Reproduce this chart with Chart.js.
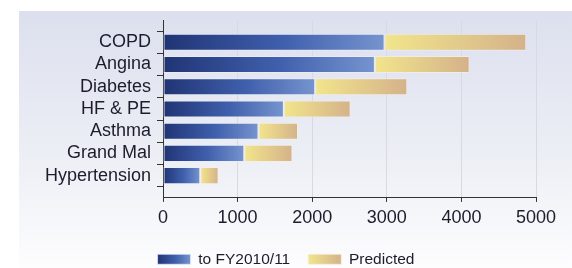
<!DOCTYPE html>
<html>
<head>
<meta charset="utf-8">
<script src="https://cdn.jsdelivr.net/npm/chart.js@4/dist/chart.umd.min.js"></script>
<style>
  html, body { margin: 0; padding: 0; background: #ffffff; }
  #wrap { width: 572px; height: 268px; position: relative; }
</style>
</head>
<body>
<div id="wrap"><canvas id="c" width="572" height="268"></canvas></div>
<script>
const categories = ['COPD', 'Angina', 'Diabetes', 'HF & PE', 'Asthma', 'Grand Mal', 'Hypertension'];
const toFY201011 = [2970, 2840, 2040, 1620, 1280, 1090, 500];
const predicted = [1900, 1270, 1235, 895, 530, 645, 245];
const seriesNames = ['to FY2010/11', 'Predicted'];
const xTicks = [0, 1000, 2000, 3000, 4000, 5000];

// blank slots at both ends so the axis extends beyond the first/last bar
const yLabels = [''].concat(categories, ['']);
const pad = arr => [null].concat(arr, [null]);

const blueStops = [[0, '#203474'], [0.55, '#4060ad'], [1, '#7694ce']];
const goldStops = [[0, '#f2e58c'], [1, '#d4b28a']];

function grad(ctx, x0, x1, stops) {
  const g = ctx.createLinearGradient(x0, 0, x1, 0);
  stops.forEach(s => g.addColorStop(s[0], s[1]));
  return g;
}

function barFill(stops, dsIndex) {
  return function (c) {
    const chart = c.chart;
    if (c.type !== 'data' || !chart.chartArea) return stops[0][1];
    const xs = chart.scales.x;
    const i = c.dataIndex;
    let start = 0;
    for (let d = 0; d < dsIndex; d++) start += chart.data.datasets[d].data[i] || 0;
    const v = chart.data.datasets[dsIndex].data[i] || 0;
    const x0 = xs.getPixelForValue(start);
    const x1 = xs.getPixelForValue(start + v);
    if (!(x1 > x0)) return stops[0][1];
    return grad(chart.ctx, x0, x1, stops);
  };
}

const panelPlugin = {
  id: 'panel',
  beforeDraw(chart) {
    const { ctx, width, height } = chart;
    ctx.save();
    ctx.fillStyle = '#ffffff';
    ctx.fillRect(0, 0, width, height);
    const g = ctx.createLinearGradient(0, 11, 0, height);
    g.addColorStop(0, '#dce0ee');
    g.addColorStop(0.55, '#eceef5');
    g.addColorStop(1, '#fdfdfe');
    ctx.fillStyle = g;
    ctx.fillRect(19, 11, width - 19, height - 11);
    ctx.restore();
  }
};

const legendGradPlugin = {
  id: 'legendGrad',
  afterUpdate(chart) {
    const lg = chart.legend;
    if (!lg || !lg.legendItems || !lg.legendHitBoxes) return;
    const bw = lg.options.labels.boxWidth;
    lg.legendItems.forEach((item, i) => {
      const hb = lg.legendHitBoxes[i];
      if (!hb) return;
      const stops = i === 0 ? blueStops : goldStops;
      item.fillStyle = grad(chart.ctx, hb.left, hb.left + bw, stops);
    });
  }
};

const FONT = '"Liberation Sans", Arial, sans-serif';

new Chart(document.getElementById('c'), {
  type: 'bar',
  data: {
    labels: yLabels,
    datasets: [
      {
        label: seriesNames[0],
        data: pad(toFY201011),
        backgroundColor: barFill(blueStops, 0),
        borderColor: 'rgba(235,238,248,0.7)',
        borderWidth: 1,
        borderSkipped: false,
        barPercentage: 0.77,
        categoryPercentage: 1
      },
      {
        label: seriesNames[1],
        data: pad(predicted),
        backgroundColor: barFill(goldStops, 1),
        borderColor: 'rgba(245,240,225,0.7)',
        borderWidth: 1,
        borderSkipped: false,
        barPercentage: 0.77,
        categoryPercentage: 1
      }
    ]
  },
  options: {
    indexAxis: 'y',
    responsive: false,
    animation: false,
    devicePixelRatio: 1,
    layout: { padding: { top: 20, right: 36, left: 36, bottom: -9 } },
    plugins: {
      tooltip: { enabled: false },
      legend: {
        position: 'bottom',
        labels: {
          boxWidth: 33,
          boxHeight: 10,
          padding: 18,
          color: '#1c1c2c',
          font: { family: FONT, size: 15.5 }
        }
      }
    },
    scales: {
      x: {
        type: 'linear',
        stacked: true,
        min: 0,
        max: 5000,
        afterBuildTicks: s => { s.ticks = xTicks.map(v => ({ value: v })); },
        grid: { color: '#d9d9e2', tickColor: '#333333', tickLength: 4, lineWidth: 1 },
        border: { color: '#333333', width: 1 },
        ticks: {
          padding: 5,
          color: '#1c1c2c',
          callback: v => String(v),
          font: { family: FONT, size: 18 }
        }
      },
      y: {
        type: 'category',
        stacked: true,
        offset: false,
        afterFit: s => { s.width = 127; },
        grid: { drawOnChartArea: false, tickColor: '#333333', tickLength: 6 },
        border: { color: '#333333', width: 1 },
        ticks: {
          autoSkip: false,
          padding: 6,
          color: '#1c1c2c',
          font: { family: FONT, size: 18 }
        }
      }
    }
  },
  plugins: [panelPlugin, legendGradPlugin]
});
</script>
</body>
</html>
